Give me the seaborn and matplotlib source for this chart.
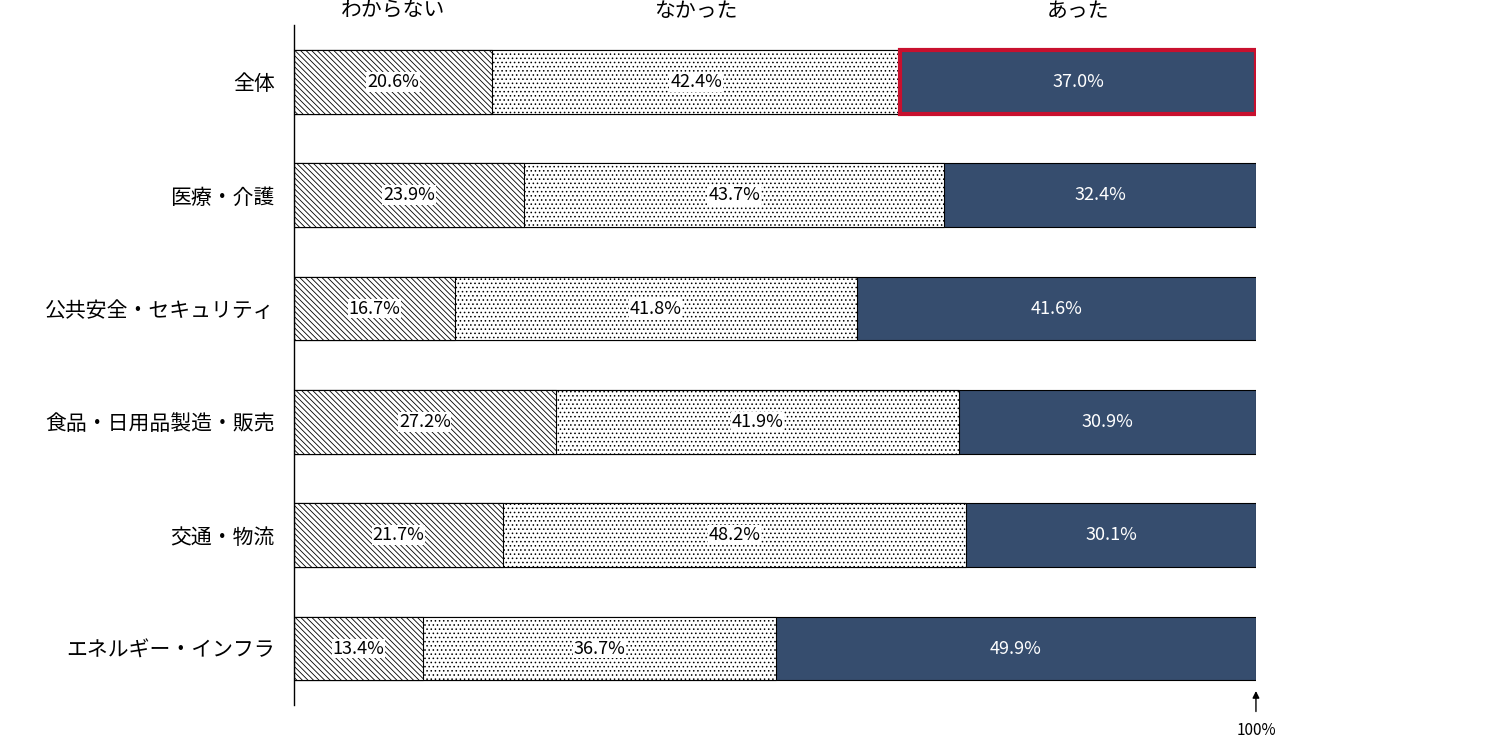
import matplotlib
matplotlib.use("Agg")
import matplotlib.pyplot as plt
import seaborn as sns
import pandas as pd
import numpy as np

plt.rcParams["font.family"] = "Noto Sans CJK JP"
plt.rcParams["hatch.linewidth"] = 0.6

categories = ["全体", "医療・介護", "公共安全・セキュリティ", "食品・日用品製造・販売", "交通・物流", "エネルギー・インフラ"]
series = ["わからない", "なかった", "あった"]
wakaranai = [20.6, 23.9, 16.7, 27.2, 21.7, 13.4]
nakatta = [42.4, 43.7, 41.8, 41.9, 48.2, 36.7]
atta = [37.0, 32.4, 41.6, 30.9, 30.1, 49.9]

vals = np.array([wakaranai, nakatta, atta])
cum = vals.cumsum(axis=0)
df = pd.DataFrame({"cat": categories, "c1": cum[0], "c2": cum[1], "c3": cum[2]})

fig = plt.figure(figsize=(15, 7.4), dpi=100)
ax = fig.add_axes([0.196, 0.047, 0.6413, 0.919])

styles = [("c3", "#364d6e", None), ("c2", "white", "...."), ("c1", "white", "\\\\\\\\\\\\")]
conts = []
for col, fc, h in styles:
    sns.barplot(data=df, x=col, y="cat", ax=ax, color=fc, orient="h", width=0.56,
                edgecolor="black", linewidth=0.8, hatch=h, saturation=1)
    conts.append(ax.containers[-1])

# red border on 全体 あった
p = conts[0][0]
x0 = cum[1][0]
ax.add_patch(plt.Rectangle((x0, p.get_y()), atta[0], p.get_height(), fill=False,
                           edgecolor="#c8102e", linewidth=3, zorder=5))

for i in range(len(categories)):
    starts = [0, cum[0][i], cum[1][i]]
    for j in range(3):
        xc = starts[j] + vals[j][i] / 2
        if j == 2:
            ax.text(xc, i, f"{vals[j][i]:.1f}%", ha="center", va="center", fontsize=13, color="white", zorder=6)
        else:
            ax.text(xc, i, f"{vals[j][i]:.1f}%", ha="center", va="center", fontsize=13, color="black", zorder=6,
                    bbox=dict(facecolor="white", edgecolor="none", pad=0.5))

starts0 = [0, cum[0][0], cum[1][0]]
for j, s in enumerate(series):
    ax.text(starts0[j] + vals[j][0] / 2, -0.53, s, ha="center", va="bottom", fontsize=15)

ax.set_xlim(0, 100)
ax.set_ylim(5.5, -0.5)
ax.set_xlabel("")
ax.set_ylabel("")
ax.set_xticks([])
ax.tick_params(axis="y", length=0, labelsize=15, pad=14)
for s in ["top", "right", "bottom"]:
    ax.spines[s].set_visible(False)
ax.spines["left"].set_linewidth(1)

ax.annotate("", xy=(100, 5.35), xytext=(100, 5.58), xycoords="data", textcoords="data",
            arrowprops=dict(arrowstyle="-|>", color="black", lw=1, mutation_scale=10), annotation_clip=False)
ax.text(100, 5.65, "100%", ha="center", va="top", fontsize=11, clip_on=False)

fig.savefig("out.png", dpi=100)
